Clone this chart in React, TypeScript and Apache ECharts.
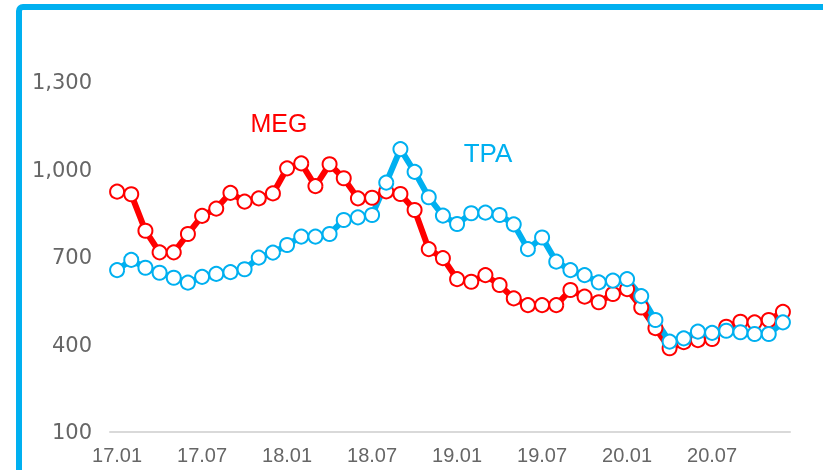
import React, { useEffect, useRef } from "react";
import * as echarts from "echarts";

const years = ["17", "18", "19", "20"];
const months = ["01", "02", "03", "04", "05", "06", "07", "08", "09", "10", "11", "12"];
const categories: string[] = [];
years.forEach((y) => months.forEach((m) => categories.push(`${y}.${m}`)));

const megValues = [
  924, 915, 790, 716, 716, 779, 841, 866, 920, 890, 901, 918,
  1004, 1021, 943, 1018, 970, 901, 903, 925, 916, 861, 727, 696,
  624, 615, 638, 604, 558, 535, 535, 535, 587, 564, 545, 573,
  590, 527, 456, 387, 408, 415, 419, 461, 478, 476, 484, 512,
];
const tpaValues = [
  655, 690, 663, 646, 629, 612, 632, 642, 648, 658, 698, 715,
  741, 770, 770, 779, 827, 836, 844, 955, 1070, 992, 905, 842,
  813, 850, 852, 844, 812, 727, 767, 684, 655, 638, 613, 619,
  624, 566, 484, 410, 421, 444, 440, 447, 442, 436, 436, 476,
];
const yTicks = { min: 100, max: 1300, interval: 300 };

const RED = "#ff0000";
const BLUE = "#00b0f0";

export default function App() {
  const ref = useRef<HTMLDivElement>(null);
  useEffect(() => {
    if (!ref.current) return;
    const chart = echarts.init(ref.current, null, { renderer: "svg" });
    const mkSeries = (name: string, data: number[], color: string) => ({
      name,
      type: "line",
      data,
      symbol: "circle",
      symbolSize: 14,
      showAllSymbol: true,
      lineStyle: { color, width: 6 },
      itemStyle: { color: "#ffffff", borderColor: color, borderWidth: 2 },
      emphasis: { disabled: true },
    });
    chart.setOption({
      animation: false,
      grid: { left: 110, right: 33, top: 82, bottom: 38 },
      xAxis: {
        type: "category",
        data: categories,
        boundaryGap: true,
        axisLine: { lineStyle: { color: "#d9d9d9", width: 2 } },
        axisTick: { show: false },
        axisLabel: {
          interval: 5,
          color: "#666666",
          fontSize: 20,
          fontFamily: "Liberation Sans",
          margin: 13,
        },
        splitLine: { show: false },
      },
      yAxis: {
        type: "value",
        min: yTicks.min,
        max: yTicks.max,
        interval: yTicks.interval,
        axisLine: { show: false },
        axisTick: { show: false },
        splitLine: { show: false },
        axisLabel: {
          color: "#666666",
          fontSize: 21,
          fontFamily: "DejaVu Sans",
          margin: 18,
          formatter: (v: number) => v.toLocaleString("en-US"),
        },
      },
      graphic: [
        {
          type: "rect",
          shape: { x: 19, y: 7, width: 1000, height: 700, r: 4 },
          style: { fill: "none", stroke: BLUE, lineWidth: 6 },
          silent: true,
        },
        {
          type: "text",
          x: 279,
          y: 123,
          style: {
            text: "MEG",
            fill: RED,
            fontSize: 25,
            fontFamily: "Liberation Sans",
            align: "center",
            verticalAlign: "middle",
          },
        },
        {
          type: "text",
          x: 488,
          y: 153,
          style: {
            text: "TPA",
            fill: BLUE,
            fontSize: 26,
            fontFamily: "Liberation Sans",
            align: "center",
            verticalAlign: "middle",
          },
        },
      ],
      series: [mkSeries("MEG", megValues, RED), mkSeries("TPA", tpaValues, BLUE)],
    });
    return () => chart.dispose();
  }, []);
  return <div ref={ref} style={{ width: 823, height: 470, position: "fixed", left: 0, top: 0 }} />;
}
